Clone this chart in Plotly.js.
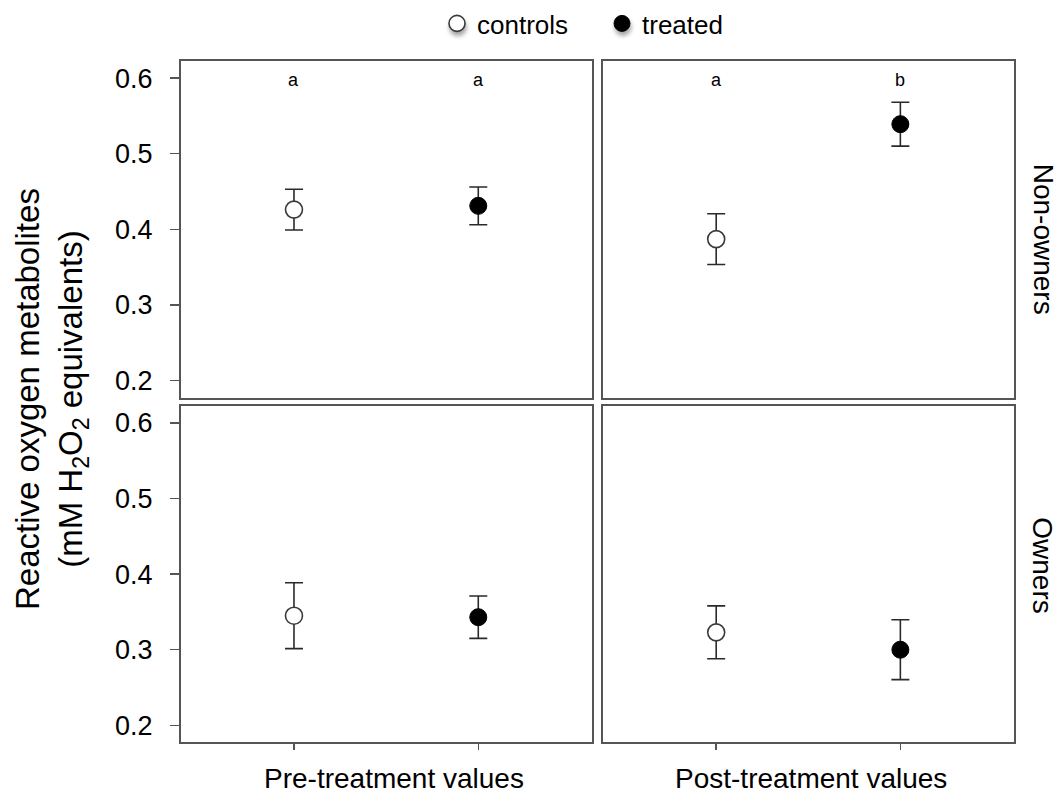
<!DOCTYPE html>
<html>
<head>
<meta charset="utf-8">
<script src="https://cdn.plot.ly/plotly-3.0.1.min.js"></script>
<style>
  html, body { margin: 0; padding: 0; background: #ffffff; }
  #chart { width: 1064px; height: 798px; }
  .legend .legendpoints path { filter: drop-shadow(1px 4px 2px rgba(0,0,0,0.35)); }
</style>
</head>
<body>
<div id="chart"></div>
<script>
// ---- data ----
// panel order: [Non-owners / Pre, Non-owners / Post, Owners / Pre, Owners / Post]
const groups = ["controls", "treated"];
const periods = ["Pre-treatment values", "Post-treatment values"];
const rowLabels = ["Non-owners", "Owners"];
const controlsMean = [0.426, 0.387, 0.345, 0.323];
const controlsErr  = [0.027, 0.0335, 0.0436, 0.035];
const treatedMean  = [0.431, 0.539, 0.343, 0.300];
const treatedErr   = [0.025, 0.029, 0.028, 0.0396];
const lettersControls = ["a", "a"];   // top row only
const lettersTreated  = ["a", "b"];
const yTicks = [0.2, 0.3, 0.4, 0.5, 0.6];

const FONT = "Liberation Sans, Arial, Helvetica, sans-serif";
const W = 1064, H = 798;
const px = v => v / W;
const py = v => 1 - v / H;

const xDomains = [[px(181), px(592)], [px(603.3), px(1014)]];
const yDomains = [[py(397), py(60.5)], [py(742.3), py(405.7)]];
const yRange = [0.1775, 0.622];
const xRange = [-0.613, 1.617];

const frameColor = "#555555";
const traces = [];
const layout = {
  width: W, height: H,
  margin: {l: 0, r: 0, t: 0, b: 0},
  paper_bgcolor: "#ffffff",
  plot_bgcolor: "#ffffff",
  font: {family: FONT, color: "#000000", size: 27},
  showlegend: true,
  legend: {
    orientation: "h",
    x: px(437), xanchor: "left",
    y: py(23), yanchor: "middle",
    font: {family: FONT, size: 26, color: "#000000"},
    bgcolor: "rgba(0,0,0,0)",
    entrywidth: 120, entrywidthmode: "pixels",
    tracegroupgap: 0
  },
  annotations: []
};

for (let r = 0; r < 2; r++) {
  for (let c = 0; c < 2; c++) {
    const p = r * 2 + c;
    const idx = p + 1;
    const xa = "xaxis" + (idx === 1 ? "" : idx);
    const ya = "yaxis" + (idx === 1 ? "" : idx);
    const xr = "x" + (idx === 1 ? "" : idx);
    const yr = "y" + (idx === 1 ? "" : idx);

    layout[xa] = {
      domain: xDomains[c], anchor: yr,
      type: "category", categoryarray: groups, categoryorder: "array",
      range: xRange, fixedrange: true,
      showline: true, mirror: true, linecolor: frameColor, linewidth: 2,
      showgrid: false, zeroline: false,
      showticklabels: false,
      ticks: r === 1 ? "outside" : "", ticklen: 6, tickwidth: 1.5, tickcolor: frameColor
    };
    layout[ya] = {
      domain: yDomains[r], anchor: xr,
      range: yRange, fixedrange: true,
      tickvals: yTicks, tickformat: ".1f",
      showline: true, mirror: true, linecolor: frameColor, linewidth: 2,
      showgrid: false, zeroline: false,
      showticklabels: c === 0,
      ticks: c === 0 ? "outside" : "", ticklen: 9, tickwidth: 1.5, tickcolor: frameColor,
      tickfont: {family: FONT, size: 27, color: "#000000"},
      ticklabelstandoff: 12
    };

    traces.push({
      type: "scatter", mode: "markers",
      x: [groups[0]], y: [controlsMean[p]],
      xaxis: xr, yaxis: yr,
      name: groups[0], legendgroup: groups[0], showlegend: p === 0,
      marker: {symbol: "circle", size: 17, color: "#ffffff", line: {color: "#3a3a3a", width: 1.6}},
      error_y: {type: "data", array: [controlsErr[p]], visible: true, color: "#2a2a2a", thickness: 1.6, width: 9},
      cliponaxis: false, hoverinfo: "skip"
    });
    traces.push({
      type: "scatter", mode: "markers",
      x: [groups[1]], y: [treatedMean[p]],
      xaxis: xr, yaxis: yr,
      name: groups[1], legendgroup: groups[1], showlegend: p === 0,
      marker: {symbol: "circle", size: 17, color: "#000000", line: {color: "#000000", width: 1}},
      error_y: {type: "data", array: [treatedErr[p]], visible: true, color: "#2a2a2a", thickness: 1.6, width: 9},
      cliponaxis: false, hoverinfo: "skip"
    });

    if (r === 0) {
      layout.annotations.push({xref: xr, yref: yr, x: groups[0], y: 0.597, text: lettersControls[c],
        showarrow: false, xanchor: "center", yanchor: "middle", font: {family: FONT, size: 18}});
      layout.annotations.push({xref: xr, yref: yr, x: groups[1], y: 0.597, text: lettersTreated[c],
        showarrow: false, xanchor: "center", yanchor: "middle", font: {family: FONT, size: 18}});
    }
  }
}

// column titles (x labels)
layout.annotations.push({xref: "paper", yref: "paper", x: px(394), y: py(778), text: periods[0],
  showarrow: false, xanchor: "center", yanchor: "middle", font: {family: FONT, size: 28}});
layout.annotations.push({xref: "paper", yref: "paper", x: px(810.5), y: py(778), text: periods[1],
  showarrow: false, xanchor: "center", yanchor: "middle", font: {family: FONT, size: 28}});
// row strip labels
layout.annotations.push({xref: "paper", yref: "paper", x: px(1043), y: py(238), text: rowLabels[0],
  textangle: 90, showarrow: false, xanchor: "center", yanchor: "middle", font: {family: FONT, size: 28}});
layout.annotations.push({xref: "paper", yref: "paper", x: px(1043), y: py(565), text: rowLabels[1],
  textangle: 90, showarrow: false, xanchor: "center", yanchor: "middle", font: {family: FONT, size: 28}});
// y-axis title
layout.annotations.push({xref: "paper", yref: "paper", x: px(51), y: py(398.5),
  text: "Reactive oxygen metabolites<br>(mM H<sub>2</sub>O<sub>2</sub> equivalents)",
  textangle: -90, showarrow: false, xanchor: "center", yanchor: "middle",
  font: {family: FONT, size: 33}});

Plotly.newPlot("chart", traces, layout, {staticPlot: true, displayModeBar: false});
</script>
</body>
</html>
